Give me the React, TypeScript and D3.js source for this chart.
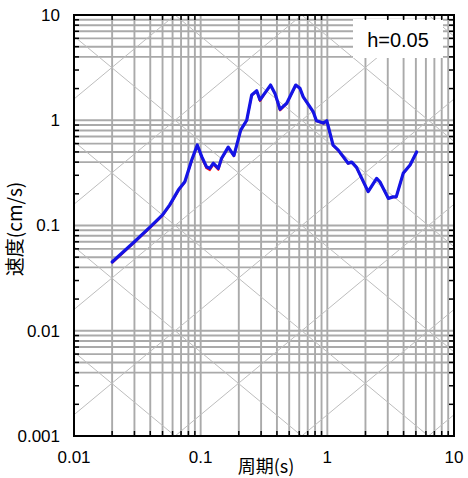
import React from "react";
import * as d3 from "d3";

const periods = [0.02, 0.03, 0.04, 0.05, 0.057, 0.0666, 0.075, 0.085, 0.094, 0.102, 0.111, 0.118, 0.126, 0.138, 0.146, 0.165, 0.183, 0.207, 0.231, 0.253, 0.277, 0.294, 0.32, 0.356, 0.386, 0.423, 0.478, 0.563, 0.608, 0.645, 0.775, 0.82, 0.93, 0.99, 1.11, 1.22, 1.46, 1.56, 1.7, 2.1, 2.45, 2.6, 3.03, 3.3, 3.5, 3.97, 4.5, 5.07];
const velBlue = [0.045, 0.07, 0.097, 0.126, 0.157, 0.217, 0.261, 0.419, 0.582, 0.451, 0.362, 0.349, 0.39, 0.349, 0.433, 0.555, 0.462, 0.807, 1.0, 1.74, 1.91, 1.56, 1.8, 2.16, 1.8, 1.27, 1.45, 2.16, 2.01, 1.67, 1.2, 0.99, 0.94, 0.99, 0.58, 0.52, 0.39, 0.4, 0.357, 0.21, 0.28, 0.26, 0.181, 0.187, 0.187, 0.313, 0.375, 0.5];
const velRed = [0.044, 0.069, 0.095, 0.124, 0.154, 0.213, 0.257, 0.41, 0.575, 0.44, 0.35, 0.336, 0.38, 0.338, 0.425, 0.548, 0.455, 0.8, 0.99, 1.72, 1.89, 1.52, 1.78, 2.14, 1.78, 1.24, 1.43, 2.14, 2.0, 1.66, 1.19, 0.98, 0.93, 0.98, 0.575, 0.515, 0.387, 0.397, 0.354, 0.208, 0.278, 0.258, 0.18, 0.186, 0.186, 0.311, 0.373, 0.498];

const xTickLabels = ["0.01", "0.1", "1", "10"];
const yTickLabels = ["0.001", "0.01", "0.1", "1", "10"];
const accelDecades = [-3, -2, -1, 0, 1, 2, 3, 4];
const dispDecades = [-6, -5, -4, -3, -2, -1, 0, 1, 2];

const L = 74, R = 454, T = 15, B = 436;

export default function App() {
  const x = d3.scaleLog().domain([0.01, 10]).range([L, R]);
  const y = d3.scaleLog().domain([0.001, 10]).range([B, T]);

  const minorX: number[] = [];
  const minorY: number[] = [];
  for (let e = -2; e < 1; e++) for (let m = 2; m <= 9; m++) minorX.push(m * Math.pow(10, e));
  for (let e = -3; e < 1; e++) for (let m = 2; m <= 9; m++) minorY.push(m * Math.pow(10, e));
  const decX = [0.1, 1];
  const decY = [0.01, 0.1, 1];

  const tMin = 0.01, tMax = 10;
  const diag: { x1: number; y1: number; x2: number; y2: number }[] = [];
  accelDecades.forEach((k) => {
    const A = Math.pow(10, k);
    diag.push({ x1: x(tMin), y1: y((A * tMin) / (2 * Math.PI)), x2: x(tMax), y2: y((A * tMax) / (2 * Math.PI)) });
  });
  dispDecades.forEach((k) => {
    const D = Math.pow(10, k);
    diag.push({ x1: x(tMin), y1: y((2 * Math.PI * D) / tMin), x2: x(tMax), y2: y((2 * Math.PI * D) / tMax) });
  });

  const line = d3.line<number>().x((_, i) => x(periods[i])).y((v) => y(v)).curve(d3.curveLinear);

  const gridColor = "#aaaaaa";
  const font = "'Liberation Sans', Arial, sans-serif";
  const cjk = "'Noto Sans CJK JP', sans-serif";

  return (
    <svg width={468} height={478} style={{ position: "absolute", left: 0, top: 0, background: "#fff" }} fontFamily={font}>
      <defs>
        <clipPath id="plot">
          <rect x={L} y={T} width={R - L} height={B - T} />
        </clipPath>
      </defs>
      <rect x={0} y={0} width={468} height={478} fill="#fff" />
      <g clipPath="url(#plot)">
        {minorX.concat(decX).map((v, i) => (
          <line key={"vx" + i} x1={x(v)} x2={x(v)} y1={T} y2={B} stroke={gridColor} strokeWidth={1.9} />
        ))}
        {minorY.filter((v) => {
          const m = Math.round(v / Math.pow(10, Math.floor(Math.log10(v) + 1e-9)));
          return m >= 4;
        }).concat(decY).map((v, i) => (
          <line key={"hy" + i} x1={L} x2={R} y1={y(v)} y2={y(v)} stroke={gridColor} strokeWidth={1.9} />
        ))}
        {diag.map((d, i) => (
          <line key={"d" + i} x1={d.x1} y1={d.y1} x2={d.x2} y2={d.y2} stroke="#bdbdbd" strokeWidth={1} />
        ))}
        <rect x={353} y={19} width={90} height={39} fill="#fff" />
        <path d={line(velRed) || ""} fill="none" stroke="#ff1010" strokeWidth={2} strokeLinejoin="round" />
        <path d={line(velBlue) || ""} fill="none" stroke="#1414e6" strokeWidth={3.2} strokeLinejoin="round" strokeLinecap="round" />
      </g>
      {minorX.map((v, i) => (
        <g key={"tx" + i}>
          <line x1={x(v)} x2={x(v)} y1={B} y2={B - 5} stroke="#000" strokeWidth={1.5} />
          <line x1={x(v)} x2={x(v)} y1={T} y2={T + 5} stroke="#000" strokeWidth={1.5} />
        </g>
      ))}
      {minorY.map((v, i) => (
        <g key={"ty" + i}>
          <line x1={L} x2={L + 5} y1={y(v)} y2={y(v)} stroke="#000" strokeWidth={1.5} />
          <line x1={R} x2={R - 5} y1={y(v)} y2={y(v)} stroke="#000" strokeWidth={1.5} />
        </g>
      ))}
      <rect x={L} y={T} width={R - L} height={B - T} fill="none" stroke="#000" strokeWidth={2} />
      <text x={398} y={47} fontSize={20} textAnchor="middle" fill="#000">h=0.05</text>
      {yTickLabels.map((s) => (
        <text key={"yl" + s} x={L - 14} y={y(+s)} dy="0.35em" fontSize={17} textAnchor="end" fill="#000">{s}</text>
      ))}
      {xTickLabels.map((s) => (
        <text key={"xl" + s} x={x(+s)} y={463} fontSize={17} textAnchor="middle" fill="#000">{s}</text>
      ))}
      <text x={266} y={473} fontSize={18} textAnchor="middle" fill="#000" fontFamily={cjk}>周期(s)</text>
      <text transform={`translate(22,229) rotate(-90)`} fontSize={19} textAnchor="middle" fill="#000" fontFamily={cjk}>速度(cm/s)</text>
    </svg>
  );
}
